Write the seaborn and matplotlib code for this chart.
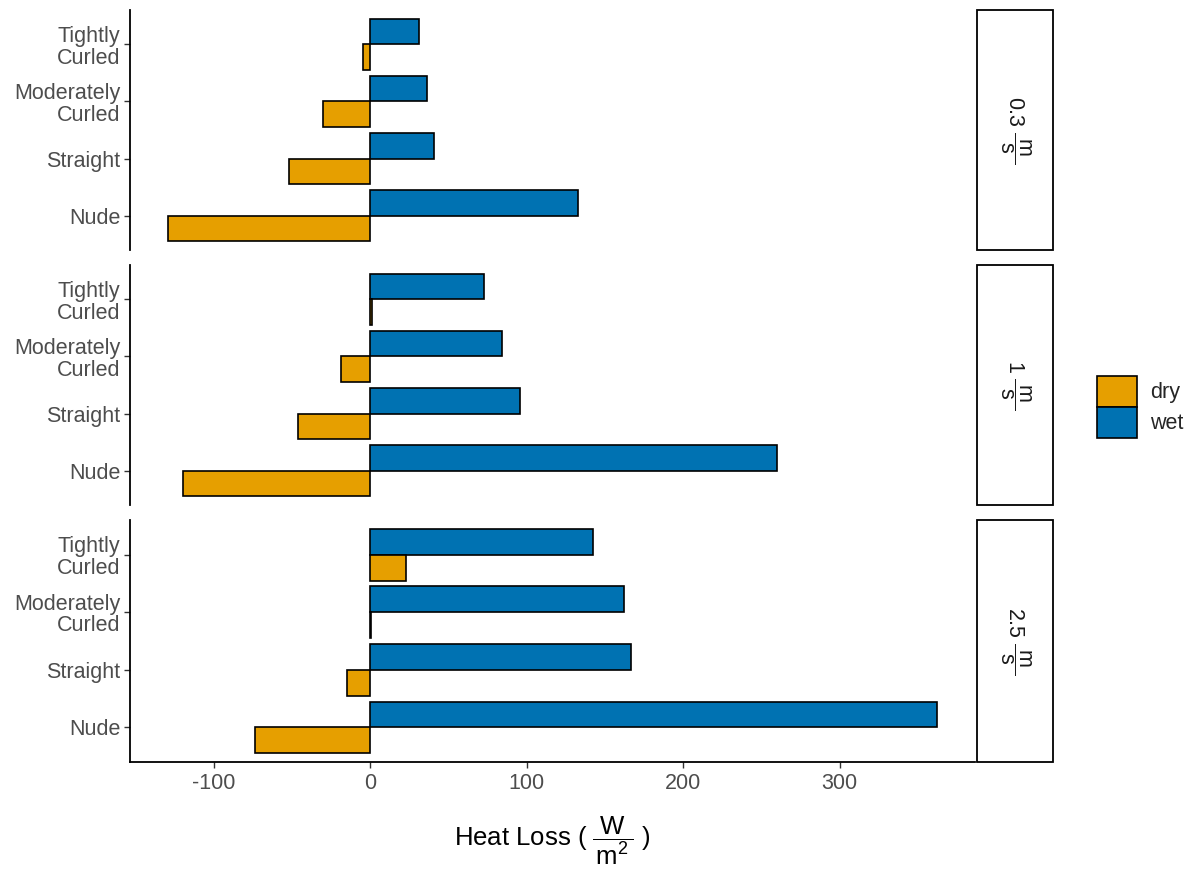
import matplotlib
matplotlib.use("Agg")
import matplotlib.pyplot as plt
import seaborn as sns
import pandas as pd
from matplotlib.patches import Patch, Rectangle

sns.set_theme(style="white")
plt.rcParams['font.family'] = ['Liberation Sans', 'DejaVu Sans']
plt.rcParams['mathtext.fontset'] = 'custom'
plt.rcParams['mathtext.rm'] = 'Liberation Sans'
plt.rcParams['mathtext.it'] = 'Liberation Sans'
plt.rcParams['axes.unicode_minus'] = False

categories = ["Tightly\nCurled", "Moderately\nCurled", "Straight", "Nude"]
speeds = ["0.3", "1", "2.5"]
conditions = ["dry", "wet"]

dry_03 = [-4.5, -30, -52, -129]
wet_03 = [31, 36, 41, 133]
dry_1 = [0.8, -18.5, -46.5, -120]
wet_1 = [73, 84, 96, 260]
dry_25 = [22.6, 0.5, -14.6, -74]
wet_25 = [142.7, 162, 167, 362]

values = {"0.3": (dry_03, wet_03), "1": (dry_1, wet_1), "2.5": (dry_25, wet_25)}
colors = {"dry": "#E69F00", "wet": "#0072B2"}

rows = []
for sp in speeds:
    d, w = values[sp]
    for c, dv, wv in zip(categories, d, w):
        rows.append(dict(speed=sp, hair=c, condition="dry", loss=dv))
        rows.append(dict(speed=sp, hair=c, condition="wet", loss=wv))
df = pd.DataFrame(rows)

W, H = 1193, 871
fig = plt.figure(figsize=(W / 100, H / 100), dpi=100)

panels = [(10, 250), (265, 505), (520, 762)]
left, right = 130, 975
xlim = (-153.6, 386.6)
FS = 15.5

for i, (sp, (top, bot)) in enumerate(zip(speeds, panels)):
    ax = fig.add_axes([left / W, 1 - bot / H, (right - left) / W, (bot - top) / H])
    sub = df[df.speed == sp]
    sns.barplot(data=sub, y="hair", x="loss", hue="condition", order=categories,
                hue_order=["wet", "dry"], palette=colors, orient="h", width=0.9,
                edgecolor="black", linewidth=1.2, ax=ax, legend=False, errorbar=None,
                saturation=1)
    ax.set_xlim(*xlim)
    ax.set_ylim(3.6, -0.6)
    ax.set_ylabel("")
    ax.set_xlabel("")
    for s in ["top", "right"]:
        ax.spines[s].set_visible(False)
    ax.spines["left"].set_color("black")
    ax.spines["left"].set_linewidth(1.3)
    ax.tick_params(axis="y", left=True, length=4, width=1.0, color="#333333",
                   labelsize=FS, labelcolor="#4D4D4D", pad=3)
    ax.set_yticks(range(len(categories)))
    ax.set_yticklabels(categories, linespacing=1.05)
    if i < 2:
        ax.spines["bottom"].set_visible(False)
        ax.set_xticks([])
    else:
        ax.spines["bottom"].set_color("black")
        ax.spines["bottom"].set_linewidth(1.3)
        ax.set_xticks([-100, 0, 100, 200, 300])
        ax.set_xticklabels(["-100", "0", "100", "200", "300"])
        ax.tick_params(axis="x", bottom=True, length=4, width=1.0, color="#333333",
                       labelsize=FS, labelcolor="#4D4D4D", pad=4)
        ax.set_xlabel(r"Heat Loss ( $\dfrac{\ \mathrm{W}\ }{\mathrm{m^2}}$ )", fontsize=18.5,
                      color="black", labelpad=15)
    # strip
    sx0, sx1 = 977, 1053
    rect = Rectangle(((sx0) / W, 1 - bot / H), (sx1 - sx0) / W, (bot - top) / H,
                     transform=fig.transFigure, facecolor="white", edgecolor="black",
                     linewidth=1.3)
    fig.add_artist(rect)
    fig.text((sx0 + sx1) / 2 / W, 1 - (top + bot) / 2 / H,
             r"$%s\ \dfrac{\ \mathrm{m}\ }{\mathrm{s}}$" % sp, rotation=-90,
             ha="center", va="center", fontsize=FS, color="#1A1A1A")

handles = [Patch(facecolor=colors[c], edgecolor="black", linewidth=1.2, label=c)
           for c in conditions]
fig.legend(handles=handles, loc="center left", bbox_to_anchor=(1093 / W, 1 - 407 / H),
           frameon=False, fontsize=FS, handlelength=1.85, handleheight=1.85,
           labelspacing=0.0, handletextpad=0.6, borderaxespad=0, borderpad=0.2)

fig.savefig("out.png", dpi=100)
